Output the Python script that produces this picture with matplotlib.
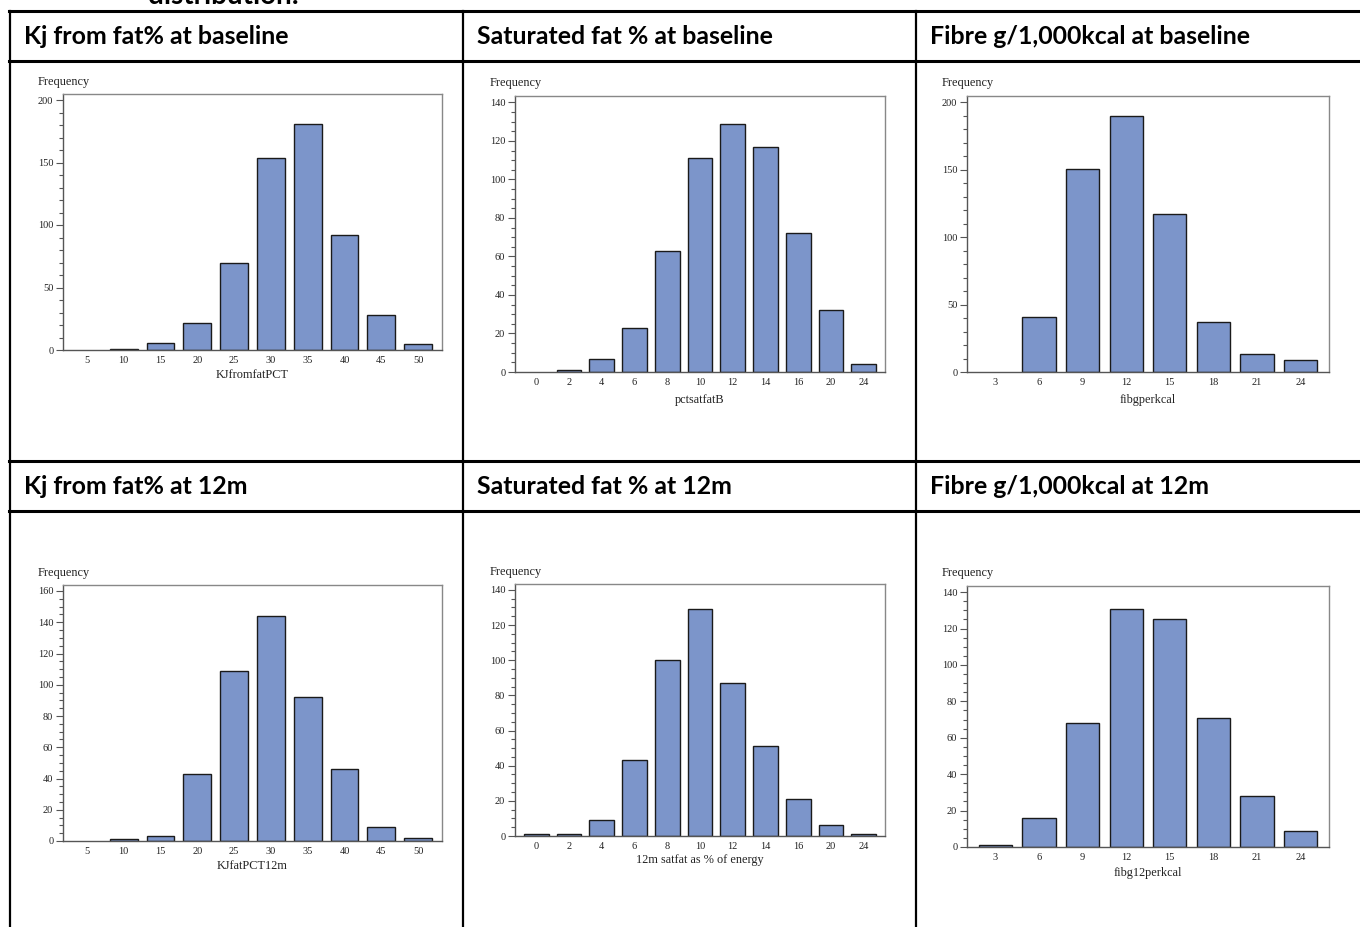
import matplotlib
matplotlib.use("Agg")
import matplotlib.pyplot as plt
from matplotlib.lines import Line2D
from matplotlib.ticker import MultipleLocator

W, H = 1360, 927

# histogram counts per bin midpoint
kj_base_bins = [5, 10, 15, 20, 25, 30, 35, 40, 45, 50]
kj_base_freq = [0, 1, 6, 22, 70, 154, 181, 92, 28, 5]

sat_base_bins = [0, 2, 4, 6, 8, 10, 12, 14, 16, 20, 24]
sat_base_freq = [0, 1, 7, 23, 63, 111, 129, 117, 72, 32, 4]

fib_base_bins = [3, 6, 9, 12, 15, 18, 21, 24]
fib_base_freq = [0, 41, 151, 190, 117, 37, 13, 9]

kj_12m_bins = [5, 10, 15, 20, 25, 30, 35, 40, 45, 50]
kj_12m_freq = [0, 1, 3, 43, 109, 144, 92, 46, 9, 2]

sat_12m_bins = [0, 2, 4, 6, 8, 10, 12, 14, 16, 20, 24]
sat_12m_freq = [1, 1, 9, 43, 100, 129, 87, 51, 21, 6, 1]

fib_12m_bins = [3, 6, 9, 12, 15, 18, 21, 24]
fib_12m_freq = [1, 16, 68, 131, 125, 71, 28, 9]

headers = ["Kj from fat% at baseline", "Saturated fat % at baseline",
           "Fibre g/1,000kcal at baseline", "Kj from fat% at 12m",
           "Saturated fat % at 12m", "Fibre g/1,000kcal at 12m"]
xlabels = ["KJfromfatPCT", "pctsatfatB", "fibgperkcal",
           "KJfatPCT12m", "12m satfat as % of energy", "fibg12perkcal"]

BAR = "#7c95ca"
SERIF = "Liberation Serif"
HEAD = "Lato"

fig = plt.figure(figsize=(W / 100, H / 100), dpi=100)
fig.patch.set_facecolor("white")


def fx(px):
    return px / W


def fy(py):
    return 1 - py / H


def hline(y, x0=0, x1=W, lw=2.2):
    fig.add_artist(Line2D([fx(x0), fx(x1)], [fy(y), fy(y)], color="black", lw=lw))


def vline(x, y0=11, y1=H, lw=1.6):
    fig.add_artist(Line2D([fx(x), fx(x)], [fy(y0), fy(y1)], color="black", lw=lw))


# table grid
for y in [11, 61, 461, 511]:
    hline(y, 9)
for x in [10, 463, 916]:
    vline(x)

# caption above the table, running off the top of the page
fig.text(fx(148), fy(4), "distribution:", fontsize=20, fontweight="bold",
         family=HEAD, ha="left", va="baseline")

col_x = [24, 477, 930]
for i, h in enumerate(headers):
    ty = 37 if i < 3 else 487
    fig.text(fx(col_x[i % 3]), fy(ty), h, fontsize=17.9, fontweight="bold",
             family=HEAD, ha="left", va="center")

# axes boxes in pixels: left, right, top, bottom
boxes = [(63, 442, 94, 350), (515, 885, 96, 372), (967, 1329, 96, 372),
         (63, 442, 585, 841), (515, 885, 584, 836), (967, 1329, 586, 847)]
panels = [(kj_base_bins, kj_base_freq, 200, 50, 10),
          (sat_base_bins, sat_base_freq, 140, 20, 5),
          (fib_base_bins, fib_base_freq, 200, 50, 10),
          (kj_12m_bins, kj_12m_freq, 160, 20, 5),
          (sat_12m_bins, sat_12m_freq, 140, 20, 5),
          (fib_12m_bins, fib_12m_freq, 140, 20, 5)]
freq_y = [82, 83, 83, 573, 572, 573]
xlab_y = [375, 400, 400, 866, 860, 873]

for i, ((l, r, t, b), (bins, freq, top, major, minor)) in enumerate(zip(boxes, panels)):
    ax = fig.add_axes([fx(l), fy(b), fx(r) - fx(l), fy(t) - fy(b)])
    pos = list(range(len(bins)))
    # empty bins get no outline
    shown = [(p, f) for p, f in zip(pos, freq) if f > 0]
    ax.bar([p for p, _ in shown], [f for _, f in shown], width=0.76,
           color=BAR, edgecolor="#1a1a1a", linewidth=1.0)
    ax.set_xlim(-0.65, len(bins) - 0.35)
    ax.set_ylim(0, top * 1.024)
    ax.set_xticks(pos)
    ax.set_xticklabels([str(v) for v in bins])
    ax.yaxis.set_major_locator(MultipleLocator(major))
    ax.yaxis.set_minor_locator(MultipleLocator(minor))
    ax.set_yticks([v for v in range(0, top + 1, major)])
    ax.tick_params(axis="x", length=0, pad=4, labelsize=7.5, labelcolor="#222222")
    ax.tick_params(axis="y", which="major", length=5, width=0.8, color="#555555",
                   pad=2, labelsize=7.5, labelcolor="#222222")
    ax.tick_params(axis="y", which="minor", length=3, width=0.8, color="#555555")
    for lab in ax.get_xticklabels() + ax.get_yticklabels():
        lab.set_family(SERIF)
    for side, sp in ax.spines.items():
        sp.set_color("#555555" if side in ("left", "bottom") else "#888888")
        sp.set_linewidth(1.0)
    cx = (l + r) / 2
    fig.text(fx(l - 25), fy(freq_y[i]), "Frequency", family=SERIF, fontsize=8.8,
             ha="left", va="center", color="#222222")
    fig.text(fx(cx), fy(xlab_y[i]), xlabels[i], family=SERIF, fontsize=8.8,
             ha="center", va="center", color="#222222")

fig.savefig("out.png", dpi=100)
